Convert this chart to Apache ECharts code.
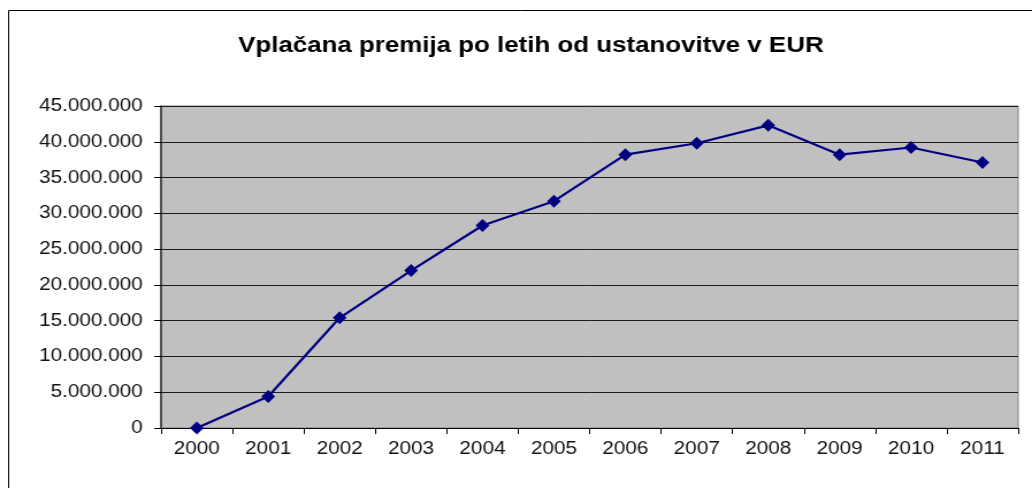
<!DOCTYPE html>
<html>
<head>
<meta charset="utf-8">
<script src="https://cdn.jsdelivr.net/npm/echarts@6/dist/echarts.min.js"></script>
<style>
html,body{margin:0;padding:0;background:#fff;overflow:hidden;}
#c{width:897px;height:488px;transform:scaleX(1.1505);transform-origin:0 0;}
</style>
</head>
<body>
<div id="c"></div>
<script>
var titleText = 'Vplačana premija po letih od ustanovitve v EUR';
var years = ['2000','2001','2002','2003','2004','2005','2006','2007','2008','2009','2010','2011'];
var premium = [0, 4400000, 15400000, 22000000, 28300000, 31700000, 38200000, 39800000, 42300000, 38200000, 39200000, 37100000];
var yMin = 0, yMax = 45000000, yStep = 5000000;

function fmt(v){
  return String(Math.round(v)).replace(/\B(?=(\d{3})+(?!\d))/g, '.');
}

var chart = echarts.init(document.getElementById('c'), null, {renderer:'canvas'});
chart.setOption({
  animation:false,
  backgroundColor:'#ffffff',
  title:{
    text:titleText,
    left:202, top:29,
    textStyle:{fontFamily:'Liberation Sans, Arial, sans-serif', fontWeight:'bold', fontSize:22.5, color:'#000'}
  },
  graphic:[{
    type:'rect', silent:true, z:-1,
    shape:{x:7.5, y:10.5, width:2000, height:2000},
    style:{fill:'none', stroke:'#000', lineWidth:1}
  }],
  grid:{
    left:140, right:12, top:106, bottom:60,
    show:true, backgroundColor:'#c0c0c0', borderColor:'#808080', borderWidth:1,
    containLabel:false
  },
  xAxis:{
    type:'category', data:years, boundaryGap:true,
    axisLine:{show:true, lineStyle:{color:'#000', width:1}},
    axisTick:{show:true, alignWithLabel:false, length:6, lineStyle:{color:'#000', width:1}},
    axisLabel:{fontFamily:'Liberation Sans, Arial, sans-serif', fontSize:18, color:'#111', margin:12},
    splitLine:{show:false}
  },
  yAxis:{
    type:'value', min:yMin, max:yMax, interval:yStep,
    axisLine:{show:true, lineStyle:{color:'#333', width:1.5}},
    axisTick:{show:true, length:6, lineStyle:{color:'#000', width:1}},
    axisLabel:{fontFamily:'Liberation Sans, Arial, sans-serif', fontSize:18, color:'#111', margin:16, formatter:fmt},
    splitLine:{show:true, lineStyle:{color:'#1a1a1a', width:1}}
  },
  series:[{
    type:'line', data:premium,
    symbol:'diamond', symbolSize:[12,13],
    lineStyle:{color:'#000080', width:2.2},
    itemStyle:{color:'#000080'}
  }]
});
</script>
</body>
</html>
